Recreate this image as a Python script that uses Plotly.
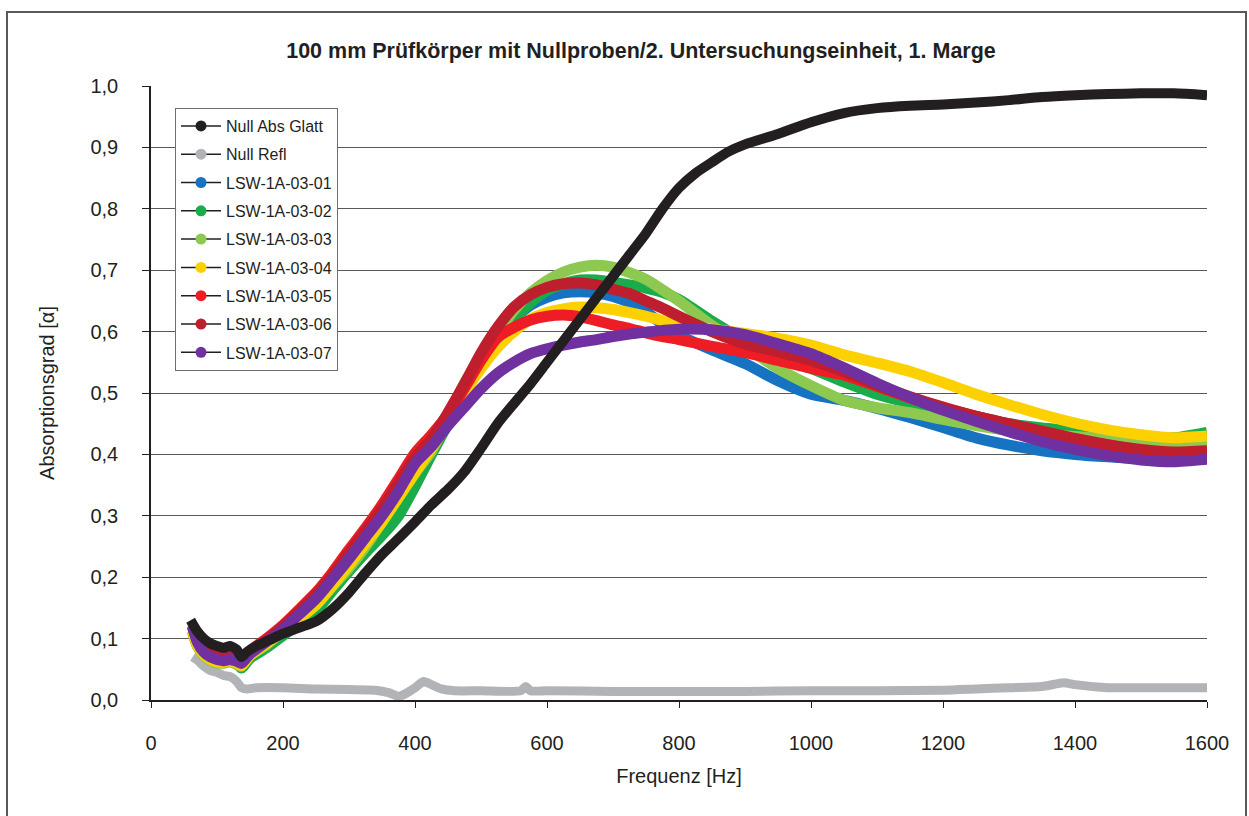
import plotly.graph_objects as go

# ---------------- data ----------------
series_names = ["Null Abs Glatt", "Null Refl", "LSW-1A-03-01", "LSW-1A-03-02", "LSW-1A-03-03",
                "LSW-1A-03-04", "LSW-1A-03-05", "LSW-1A-03-06", "LSW-1A-03-07"]
series_colors = ["#231f20", "#b1b3b6", "#1673c1", "#1aab4b", "#8dc850",
                 "#fdd000", "#ee1c25", "#be1e2d", "#7030a0"]

freq_black = [60, 70, 80, 90, 100, 110, 120, 130, 137, 145, 160, 180, 200, 225, 250, 275, 300, 325,
              350, 375, 400, 425, 450, 475, 500, 525, 550, 575, 600, 625, 650, 675, 700, 725, 750,
              775, 800, 825, 850, 875, 900, 950, 1000, 1050, 1100, 1150, 1200, 1250, 1300, 1350,
              1400, 1450, 1500, 1550, 1600]
null_abs_glatt = [0.13, 0.112, 0.1, 0.092, 0.088, 0.085, 0.088, 0.082, 0.07, 0.078, 0.088, 0.098,
                  0.108, 0.118, 0.128, 0.148, 0.175, 0.207, 0.237, 0.263, 0.29, 0.318, 0.343, 0.372,
                  0.41, 0.45, 0.483, 0.515, 0.55, 0.585, 0.62, 0.655, 0.69, 0.725, 0.76, 0.8, 0.834,
                  0.858, 0.876, 0.893, 0.905, 0.922, 0.941, 0.956, 0.964, 0.968, 0.970, 0.973,
                  0.977, 0.982, 0.985, 0.987, 0.988, 0.988, 0.985]

freq_gray = [63, 70, 80, 90, 100, 110, 120, 130, 137, 145, 160, 200, 250, 300, 340, 360, 375, 385,
             400, 413, 425, 440, 460, 500, 560, 568, 575, 600, 700, 800, 900, 1000, 1100, 1200,
             1250, 1300, 1350, 1383, 1400, 1450, 1500, 1550, 1600]
null_refl = [0.07, 0.065, 0.055, 0.048, 0.045, 0.04, 0.038, 0.03, 0.02, 0.018, 0.02, 0.02, 0.018,
             0.017, 0.016, 0.012, 0.006, 0.01, 0.02, 0.03, 0.025, 0.018, 0.015, 0.015, 0.015,
             0.022, 0.015, 0.015, 0.014, 0.014, 0.014, 0.015, 0.015, 0.016, 0.018, 0.02, 0.022,
             0.028, 0.025, 0.02, 0.02, 0.02, 0.02]

freq = [63, 70, 80, 90, 100, 110, 120, 130, 137, 150, 175, 200, 225, 250, 275, 300, 325, 350, 375,
        400, 425, 450, 475, 500, 525, 550, 575, 600, 625, 650, 675, 700, 725, 750, 775, 800, 850,
        900, 950, 1000, 1050, 1100, 1150, 1200, 1250, 1300, 1350, 1400, 1450, 1500, 1550, 1600]

lsw_01 = [0.118, 0.095, 0.08, 0.072, 0.068, 0.066, 0.068, 0.064, 0.058, 0.072, 0.09, 0.11, 0.13,
          0.152, 0.183, 0.215, 0.248, 0.28, 0.318, 0.36, 0.407, 0.455, 0.505, 0.55, 0.59, 0.62,
          0.643, 0.656, 0.663, 0.665, 0.663, 0.657, 0.647, 0.632, 0.612, 0.594, 0.57, 0.548,
          0.52, 0.498, 0.488, 0.475, 0.46, 0.444, 0.427, 0.415, 0.406, 0.4, 0.396, 0.393, 0.392,
          0.395]
lsw_02 = [0.112, 0.09, 0.075, 0.068, 0.064, 0.062, 0.064, 0.06, 0.052, 0.068, 0.085, 0.105, 0.125,
          0.145, 0.178, 0.21, 0.24, 0.268, 0.3, 0.348, 0.4, 0.45, 0.5, 0.545, 0.585, 0.62, 0.647,
          0.667, 0.678, 0.684, 0.684, 0.68, 0.676, 0.671, 0.664, 0.652, 0.617, 0.585, 0.56, 0.54,
          0.518, 0.498, 0.484, 0.474, 0.462, 0.45, 0.443, 0.438, 0.433, 0.428, 0.427, 0.436]
lsw_03 = [0.11, 0.088, 0.072, 0.064, 0.06, 0.06, 0.062, 0.058, 0.055, 0.072, 0.09, 0.112, 0.133,
          0.155, 0.185, 0.215, 0.25, 0.29, 0.33, 0.37, 0.405, 0.46, 0.516, 0.56, 0.598, 0.635,
          0.663, 0.683, 0.697, 0.705, 0.708, 0.705, 0.696, 0.685, 0.668, 0.65, 0.61, 0.575, 0.54,
          0.512, 0.488, 0.476, 0.468, 0.457, 0.447, 0.439, 0.433, 0.429, 0.425, 0.42, 0.417,
          0.415]
lsw_04 = [0.112, 0.09, 0.074, 0.066, 0.062, 0.062, 0.064, 0.06, 0.056, 0.073, 0.092, 0.112, 0.133,
          0.155, 0.187, 0.22, 0.255, 0.29, 0.33, 0.37, 0.41, 0.45, 0.5, 0.54, 0.574, 0.6, 0.62,
          0.631, 0.637, 0.64, 0.639, 0.636, 0.631, 0.625, 0.618, 0.612, 0.604, 0.597, 0.589,
          0.578, 0.562, 0.549, 0.535, 0.517, 0.498, 0.481, 0.465, 0.451, 0.44, 0.432, 0.427,
          0.43]
lsw_05 = [0.122, 0.1, 0.085, 0.078, 0.074, 0.072, 0.074, 0.07, 0.062, 0.08, 0.1, 0.122, 0.148,
          0.175, 0.208, 0.245, 0.28, 0.318, 0.36, 0.402, 0.432, 0.465, 0.508, 0.553, 0.59, 0.607,
          0.619, 0.625, 0.627, 0.624, 0.618, 0.611, 0.605, 0.598, 0.592, 0.587, 0.576, 0.566,
          0.553, 0.54, 0.529, 0.511, 0.492, 0.476, 0.462, 0.449, 0.437, 0.425, 0.415, 0.407,
          0.402, 0.404]
lsw_06 = [0.12, 0.098, 0.083, 0.076, 0.072, 0.07, 0.072, 0.068, 0.06, 0.078, 0.097, 0.12, 0.145,
          0.172, 0.203, 0.24, 0.275, 0.312, 0.353, 0.395, 0.425, 0.468, 0.515, 0.565, 0.607,
          0.64, 0.66, 0.672, 0.678, 0.679, 0.676, 0.669, 0.662, 0.65, 0.638, 0.625, 0.6, 0.58,
          0.567, 0.553, 0.535, 0.513, 0.494, 0.477, 0.462, 0.45, 0.438, 0.426, 0.416, 0.408,
          0.404, 0.406]
lsw_07 = [0.12, 0.095, 0.078, 0.07, 0.066, 0.064, 0.066, 0.063, 0.06, 0.075, 0.095, 0.115, 0.14,
          0.165, 0.197, 0.23, 0.265, 0.3, 0.34, 0.385, 0.413, 0.447, 0.477, 0.507, 0.532, 0.55,
          0.564, 0.572, 0.578, 0.583, 0.587, 0.592, 0.596, 0.599, 0.602, 0.604, 0.603, 0.595,
          0.58, 0.564, 0.541, 0.516, 0.493, 0.472, 0.454, 0.437, 0.421, 0.408, 0.398, 0.391,
          0.388, 0.392]

title_text = "100 mm Prüfkörper mit Nullproben/2. Untersuchungseinheit, 1. Marge"
x_title = "Frequenz [Hz]"
y_title = "Absorptionsgrad [α]"
x_ticks = [0, 200, 400, 600, 800, 1000, 1200, 1400, 1600]
y_ticks = [0.0, 0.1, 0.2, 0.3, 0.4, 0.5, 0.6, 0.7, 0.8, 0.9, 1.0]

# ---------------- figure ----------------
FONT = "Liberation Sans, Arial, sans-serif"
TXT = "#231f20"
W, H = 1249, 816
ML, MR, MT, MB = 151, 42, 86, 116

fig = go.Figure()

sample_data = [lsw_01, lsw_02, lsw_03, lsw_04, lsw_05, lsw_06, lsw_07]

def add_line(xs, ys, color, width=9):
    fig.add_trace(go.Scatter(x=xs, y=ys, mode="lines", showlegend=False, hoverinfo="skip",
                             line=dict(color=color, width=width, shape="spline", smoothing=0.6)))

add_line(freq_gray, null_refl, series_colors[1], 9)
for ys, col in zip(sample_data, series_colors[2:]):
    add_line(freq, ys, col, 11)
add_line(freq_black, null_abs_glatt, series_colors[0], 10)

# legend entries (black line with coloured dot, as in the original)
for i, (name, col) in enumerate(zip(series_names, series_colors)):
    fig.add_trace(go.Scatter(x=[None], y=[None], mode="lines+markers", name=name,
                             legendgroup=f"g{i}",
                             line=dict(color=TXT, width=1.5),
                             marker=dict(color=col, size=11)))

pw = W - ML - MR
ph = H - MT - MB

def px_x(p):
    return (p - ML) / pw

def px_y(p):
    return (H - MB - p) / ph

fig.update_layout(
    width=W, height=H,
    margin=dict(l=ML, r=MR, t=MT, b=MB, autoexpand=False),
    paper_bgcolor="white", plot_bgcolor="white",
    separators=", ",
    font=dict(family=FONT, color=TXT, size=20),
    title=dict(text=f"<b>{title_text}</b>", x=641 / W, xanchor="center", xref="container",
               y=1 - 50 / H, yanchor="middle", yref="container",
               font=dict(size=21.5, family=FONT, color=TXT)),
    showlegend=True,
    legend=dict(x=px_x(175), y=px_y(108), xanchor="left", yanchor="top",
                bgcolor="white", bordercolor="#6d6e71", borderwidth=1,
                font=dict(size=16, family=FONT, color=TXT),
                tracegroupgap=4.5, itemwidth=40, traceorder="grouped"),
    xaxis=dict(range=[0, 1600], tickvals=x_ticks, ticks="outside", ticklen=6, tickwidth=1,
               tickcolor=TXT, showline=True, linecolor=TXT, linewidth=1.5,
               showgrid=False, zeroline=False, ticklabelstandoff=18,
               tickfont=dict(size=20, family=FONT, color=TXT),
               title=dict(text=x_title, standoff=16, font=dict(size=20, family=FONT, color=TXT)),
               automargin=False),
    yaxis=dict(range=[0, 1], tickvals=y_ticks, tickformat=".1f", ticks="outside", ticklen=7,
               tickwidth=1, tickcolor=TXT, showline=True, linecolor=TXT, linewidth=1.5,
               showgrid=True, gridcolor="#58595b", gridwidth=1, zeroline=False,
               ticklabelstandoff=20,
               tickfont=dict(size=20, family=FONT, color=TXT),
               title=dict(text=y_title, standoff=30, font=dict(size=20, family=FONT, color=TXT)),
               automargin=False),
    shapes=[dict(type="rect", xref="paper", yref="paper",
                 x0=px_x(7), x1=px_x(1246), y0=px_y(822), y1=px_y(12),
                 line=dict(color="#58595b", width=2), fillcolor="rgba(0,0,0,0)", layer="above")],
)

fig.write_html("out.html")
